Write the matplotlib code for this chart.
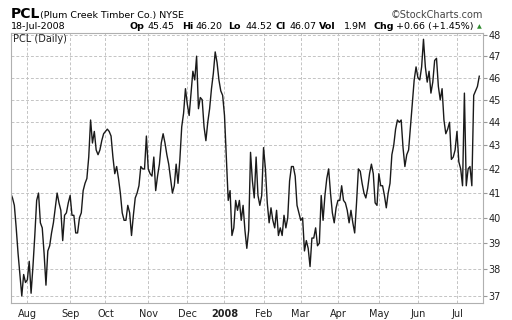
import numpy as np
import matplotlib
matplotlib.use('Agg')
import matplotlib.pyplot as plt
from matplotlib.ticker import FixedLocator, NullFormatter, NullLocator

# PCL daily close, 19-Jul-2007 .. 18-Jul-2008 (one value per trading day)
close = [
    41.0, 40.8, 40.5, 39.6, 38.6, 37.8, 37.0, 37.8, 37.5, 37.6,
    38.3, 37.1, 38.1, 39.3, 40.7, 41.0, 39.8, 39.6, 38.6, 37.4,
    38.7, 38.9, 39.4, 39.8, 40.4, 41.0, 40.6, 40.3, 39.1, 40.1,
    40.2, 40.6, 40.9, 40.1, 40.1, 39.4, 39.4, 40.0, 40.2, 41.1,
    41.4, 41.6, 42.5, 44.1, 43.1, 43.6, 42.8, 42.6, 42.8, 43.2,
    43.5, 43.6, 43.7, 43.6, 43.4, 42.5, 41.8, 42.1, 41.6, 41.0,
    40.2, 39.9, 39.9, 40.5, 40.2, 39.3, 40.1, 40.8, 41.0, 41.3,
    42.1, 42.0, 42.0, 43.4, 42.0, 41.8, 41.7, 42.5, 41.1, 41.7,
    42.2, 43.1, 43.5, 43.1, 42.6, 42.2, 41.6, 41.0, 41.3, 42.2,
    41.4, 42.4, 43.8, 44.4, 45.5, 44.8, 44.3, 45.3, 46.3, 45.9,
    47.0, 44.6, 45.1, 45.0, 43.8, 43.2, 44.0, 44.6, 45.5, 46.2,
    47.2, 46.7, 45.9, 45.4, 45.2, 44.3, 42.5, 40.7, 41.1, 39.3,
    39.6, 40.7, 40.3, 40.7, 39.9, 40.5, 39.5, 38.8, 39.5, 42.7,
    41.5, 40.8, 42.5, 40.9, 40.5, 40.9, 42.9, 42.0, 40.6, 39.8,
    40.4, 39.9, 39.6, 40.3, 39.3, 39.6, 39.3, 40.1, 39.6, 40.0,
    41.5, 42.1, 42.1, 41.7, 40.5, 40.2, 39.9, 40.0, 38.7, 39.1,
    38.8, 38.1, 39.2, 39.2, 39.6, 38.9, 39.0, 40.9, 39.9, 40.9,
    41.6, 42.0, 41.0, 40.2, 39.8, 40.4, 40.7, 40.7, 41.3, 40.7,
    40.6, 40.3, 39.8, 40.3, 39.8, 39.4, 40.6, 42.0, 41.9, 41.4,
    41.0, 40.8, 41.2, 41.8, 42.2, 41.8, 40.6, 40.5, 41.8, 41.3,
    41.3, 40.9, 40.4, 41.0, 41.4, 42.6, 43.0, 43.7, 44.1, 44.0,
    44.1, 42.9, 42.1, 42.6, 42.8, 43.8, 44.8, 45.9, 46.5, 46.0,
    45.9, 46.5, 47.8, 46.5, 45.8, 46.3, 45.3, 45.8, 46.8, 46.9,
    45.6, 45.0, 45.5, 44.1, 43.5, 43.7, 44.0, 42.4, 42.5, 42.8,
    43.6, 42.3, 42.0, 41.3, 45.3, 41.3, 42.0, 42.1, 41.3, 45.2,
    45.4, 45.6, 46.07,
]

# first trading day of each month, as an index into close
month_pos = [9, 32, 51, 74, 95, 115, 136, 156, 176, 198, 219, 240]
month_lbl = ['Aug', 'Sep', 'Oct', 'Nov', 'Dec', '2008', 'Feb', 'Mar', 'Apr', 'May', 'Jun', 'Jul']
price_ticks = [37, 38, 39, 40, 41, 42, 43, 44, 45, 46, 47, 48]

W, H = 512, 320
fig = plt.figure(figsize=(W / 100, H / 100), dpi=100)
fig.patch.set_facecolor('white')

def px(x, y):
    return x / W, 1 - y / H

ax = fig.add_axes([11 / W, 1 - 303 / H, 472 / W, 270 / H])
ax.plot(np.arange(len(close)), close, color='#1a1a1a', lw=1.0)

ax.set_yscale('log')
ax.set_ylim(36.74, 48.1)
ax.set_xlim(0.2, 254)
ax.yaxis.set_major_locator(FixedLocator(price_ticks))
ax.yaxis.set_minor_locator(NullLocator())
ax.yaxis.set_minor_formatter(NullFormatter())
ax.set_yticklabels([str(t) for t in price_ticks])
ax.yaxis.tick_right()
ax.set_xticks(month_pos)
ax.set_xticklabels(month_lbl)
ax.get_xticklabels()[5].set_fontweight('bold')

ax.tick_params(axis='y', length=3, color='#999999', labelsize=7, pad=1, labelcolor='#222222')
ax.tick_params(axis='x', length=0, labelsize=7, pad=4, labelcolor='#222222')

ax.grid(True, color='#c4c4c4', linestyle=(0, (3, 2)), lw=0.7)
for s in ['left', 'bottom', 'right']:
    ax.spines[s].set_color('#b0b0b0')
ax.spines['top'].set_color('#b0b0b0')
ax.spines['top'].set_linestyle((0, (1, 1)))

ax.text(0.004, 0.995, 'PCL (Daily)', transform=ax.transAxes, fontsize=7,
        va='top', ha='left', color='#222222')

# header
fig.text(*px(11, 18), 'PCL', fontsize=10, fontweight='bold', va='baseline')
fig.text(*px(40, 18), '(Plum Creek Timber Co.) NYSE', fontsize=6.8, va='baseline')
fig.text(*px(483, 18), '\u00a9StockCharts.com', fontsize=7, va='baseline',
         ha='right', color='#444444')
fig.text(*px(11, 29), '18-Jul-2008', fontsize=6.8, va='baseline')

parts = [(130, 'Op', True), (148, '45.45', False), (182, 'Hi', True), (196, '46.20', False),
         (228, 'Lo', True), (245, '44.52', False), (276, 'Cl', True), (289, '46.07', False),
         (319, 'Vol', True), (344, '1.9M', False), (373, 'Chg', True),
         (396, '+0.66 (+1.45%)', False)]
for x, t, b in parts:
    fig.text(*px(x, 29), t, fontsize=6.8, va='baseline',
             fontweight='bold' if b else 'normal')
fig.text(*px(477, 28), '\u25b2', fontsize=4.5, va='baseline', color='#2e8b2e')

fig.savefig('out.png', dpi=100)
